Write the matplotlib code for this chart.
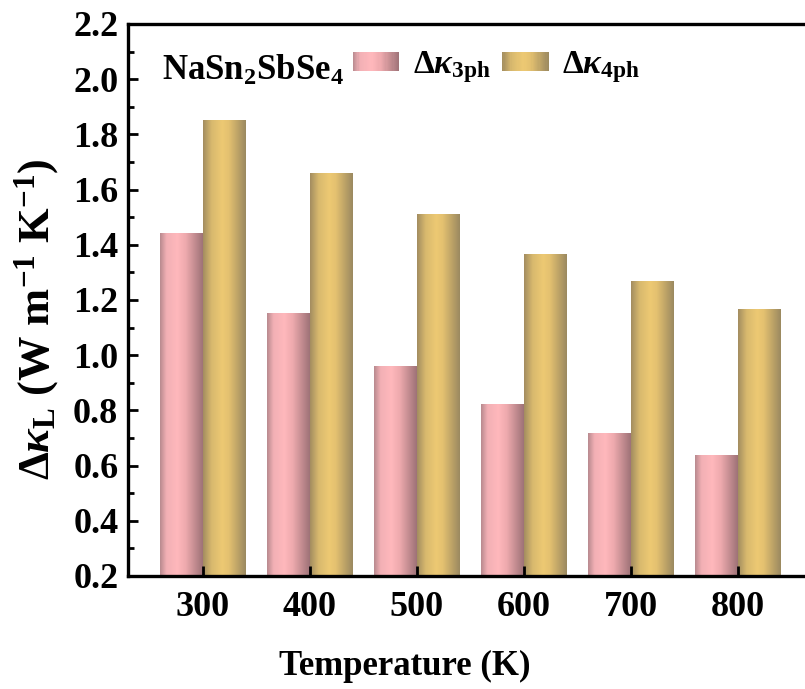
import numpy as np
import matplotlib.pyplot as plt
from matplotlib.colors import LinearSegmentedColormap
from matplotlib.legend_handler import HandlerBase
from matplotlib.patches import Rectangle, Patch

# ----------------------------------------------------------------------
# data
# ----------------------------------------------------------------------
temps = ['300', '400', '500', '600', '700', '800']
k3ph = [1.44, 1.15, 0.96, 0.82, 0.715, 0.635]
k4ph = [1.85, 1.66, 1.51, 1.365, 1.266, 1.165]

plt.rcParams['font.family'] = 'Liberation Serif'
plt.rcParams['font.weight'] = 'bold'
plt.rcParams['mathtext.fontset'] = 'custom'
plt.rcParams['mathtext.rm'] = 'Liberation Serif:bold'
plt.rcParams['mathtext.it'] = 'Liberation Serif:bold:italic'
plt.rcParams['mathtext.bf'] = 'Liberation Serif:bold'

# horizontal shading of the "cylinder" bars
pink_cmap = LinearSegmentedColormap.from_list(
    'pink', [(0.0, '#b88a8f'), (0.15, '#f2b0b5'), (0.4, '#ffb8bc'),
             (0.6, '#eeaaae'), (1.0, '#9e7277')])
gold_cmap = LinearSegmentedColormap.from_list(
    'gold', [(0.0, '#a38d60'), (0.2, '#d8b96e'), (0.45, '#edc973'),
             (0.6, '#e4c170'), (1.0, '#9b8960')])


class GradHandler(HandlerBase):
    def __init__(self, cmap):
        super().__init__()
        self.cmap = cmap

    def create_artists(self, legend, orig_handle, xdescent, ydescent,
                       width, height, fontsize, trans):
        n = 40
        arts = []
        for i in range(n):
            r = Rectangle((-xdescent + width * i / n, -ydescent), width / n * 1.08, height,
                          facecolor=self.cmap((i + 0.5) / n), edgecolor='none', transform=trans)
            arts.append(r)
        return arts


fig = plt.figure(figsize=(8.05, 6.89), dpi=100)
ax = fig.add_axes([128 / 805, 113 / 689, 685 / 805, 552 / 689])

x = np.arange(len(temps))
w = 0.40
bars3 = ax.bar(x - w / 2, k3ph, w, color='none', edgecolor='none', zorder=1)
bars4 = ax.bar(x + w / 2, k4ph, w, color='none', edgecolor='none', zorder=1)

grad = np.linspace(0, 1, 128).reshape(1, -1)
for bars, cmap in [(bars3, pink_cmap), (bars4, gold_cmap)]:
    for b in bars:
        x0, y0 = b.get_x(), b.get_y()
        ax.imshow(grad, cmap=cmap, aspect='auto', interpolation='bilinear',
                  extent=[x0, x0 + b.get_width(), y0, y0 + b.get_height()], zorder=1)

ax.set_xlim(-0.70, len(temps) - 1 + 0.70)
ax.set_ylim(0.2, 2.2)
ax.set_xticks(x)
ax.set_xticklabels(temps)
ax.set_yticks(np.arange(0.2, 2.21, 0.2))
ax.set_yticks(np.arange(0.3, 2.2, 0.2), minor=True)
ax.yaxis.set_major_formatter(plt.FormatStrFormatter('%.1f'))

ax.tick_params(axis='both', which='major', direction='in', length=7, width=2,
               labelsize=26, pad=7)
ax.tick_params(axis='y', which='minor', direction='in', length=4, width=2)
ax.tick_params(axis='x', which='major', pad=11)
for s in ax.spines.values():
    s.set_linewidth(2.4)

ax.set_xlabel('Temperature (K)', fontsize=25, fontweight='bold')
ax.xaxis.set_label_coords(0.404, -0.134)
ax.set_ylabel(r'$\Delta\kappa_{\mathrm{L}}$ (W m$^{\mathrm{-1}}$ K$^{\mathrm{-1}}$)',
              fontsize=32, fontweight='bold')
ax.yaxis.set_label_coords(-0.098, 0.466)

ax.text(0.05, 0.916, r'NaSn$_{\mathrm{2}}$SbSe$_{\mathrm{4}}$', transform=ax.transAxes,
        fontsize=25, fontweight='bold', va='center', ha='left')

h3 = Patch(label=r'$\Delta\kappa_{\mathrm{3ph}}$')
h4 = Patch(label=r'$\Delta\kappa_{\mathrm{4ph}}$')
ax.legend(handles=[h3, h4], handler_map={h3: GradHandler(pink_cmap), h4: GradHandler(gold_cmap)},
          loc='upper left', bbox_to_anchor=(0.328, 0.955), ncol=2, frameon=False,
          fontsize=24, borderpad=0, borderaxespad=0, handlelength=1.4, handleheight=0.5,
          handletextpad=0.4, columnspacing=0.35)

plt.savefig('out.png', dpi=100)
